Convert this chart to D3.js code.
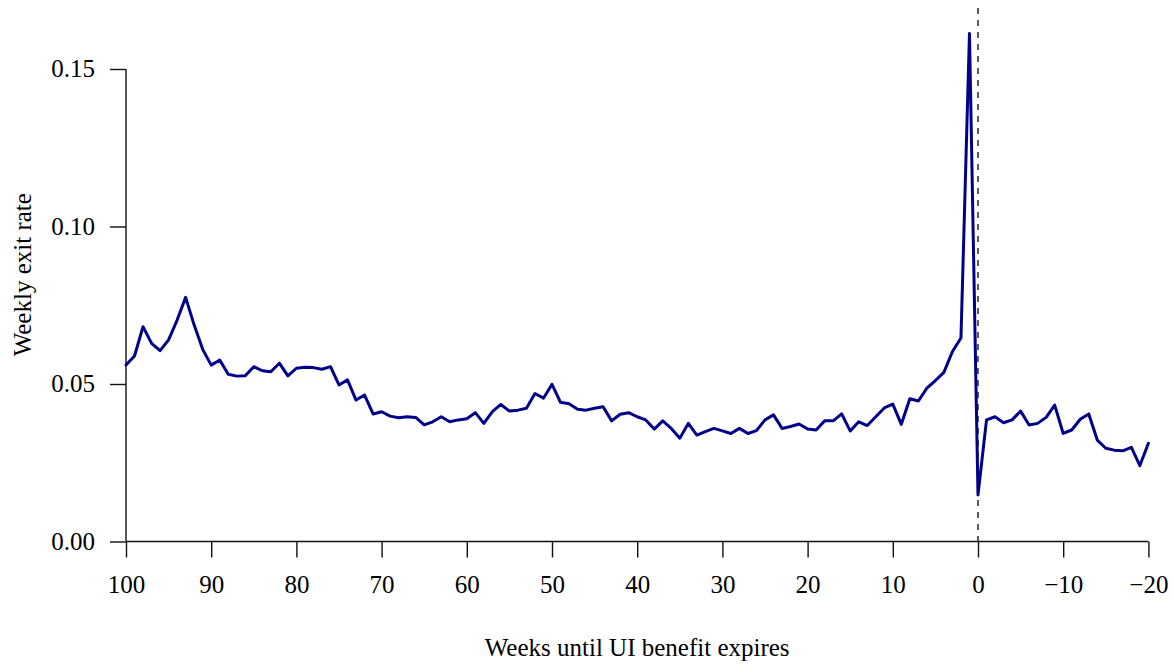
<!DOCTYPE html>
<html>
<head>
<meta charset="utf-8">
<script src="https://cdn.jsdelivr.net/npm/d3@7"></script>
<style>
  html, body { margin: 0; padding: 0; background: #ffffff; }
  svg { display: block; }
  text { font-family: "Liberation Serif", "Times New Roman", serif; fill: #000; }
</style>
</head>
<body>
<svg id="chart" width="1174" height="664"></svg>
<script>
// Weeks until UI benefit expires (100 down to -20)
const weeks = d3.range(100, -21, -1);

// Weekly exit rate for each week
const exitRate = [
  0.0560, 0.0589, 0.0682, 0.0629, 0.0606, 0.0640, 0.0703, 0.0775, 0.0687, 0.0610,
  0.0560, 0.0576, 0.0531, 0.0525, 0.0526, 0.0555, 0.0542, 0.0539, 0.0566, 0.0526,
  0.0550, 0.0553, 0.0552, 0.0547, 0.0555, 0.0497, 0.0513, 0.0449, 0.0465, 0.0405,
  0.0412, 0.0398, 0.0393, 0.0396, 0.0394, 0.0370, 0.0380, 0.0396, 0.0380, 0.0386,
  0.0390, 0.0409, 0.0375, 0.0412, 0.0435, 0.0414, 0.0417, 0.0423, 0.0470, 0.0455,
  0.0499, 0.0442, 0.0437, 0.0420, 0.0417, 0.0423, 0.0428, 0.0383, 0.0404, 0.0409,
  0.0396, 0.0386, 0.0357, 0.0383, 0.0359, 0.0328, 0.0375, 0.0338, 0.0349, 0.0359,
  0.0351, 0.0343, 0.0359, 0.0343, 0.0352, 0.0386, 0.0402, 0.0359, 0.0365, 0.0373,
  0.0357, 0.0354, 0.0383, 0.0383, 0.0405, 0.0351, 0.0380, 0.0368, 0.0396, 0.0424,
  0.0436, 0.0372, 0.0453, 0.0446, 0.0487, 0.0511, 0.0537, 0.0603, 0.0646, 0.1613,
  0.0148, 0.0386, 0.0396, 0.0377, 0.0386, 0.0414, 0.0370, 0.0375, 0.0394, 0.0433,
  0.0343, 0.0354, 0.0388, 0.0405, 0.0322, 0.0296, 0.0290, 0.0288, 0.0299, 0.0241,
  0.0312
];

// Axis ticks and their labels
const xTicks = [100, 90, 80, 70, 60, 50, 40, 30, 20, 10, 0, -10, -20];
const xTickLabels = ["100", "90", "80", "70", "60", "50", "40", "30", "20", "10", "0", "\u221210", "\u221220"];
const yTicks = [0, 0.05, 0.10, 0.15];
const yTickLabels = ["0.00", "0.05", "0.10", "0.15"];

const xTitle = "Weeks until UI benefit expires";
const yTitle = "Weekly exit rate";

// Benefit expiry marker
const expiryWeek = 0;

// Plot region
const plot = { left: 126, right: 1148.4, top: 8, bottom: 541.5 };
const yMax = 1.05 * d3.max(exitRate);

const svg = d3.select("#chart");

const x = d3.scaleLinear().domain([100, -20]).range([plot.left, plot.right]);
const y = d3.scaleLinear().domain([0, yMax]).range([plot.bottom, plot.top]);

const fontSize = 25;
const tickLen = 16;

// x axis
const xAxis = d3.axisBottom(x)
  .tickValues(xTicks)
  .tickFormat((d, i) => xTickLabels[i])
  .tickSize(tickLen)
  .tickPadding(18)
  .tickSizeOuter(0);

const gx = svg.append("g")
  .attr("transform", `translate(0,${plot.bottom})`)
  .call(xAxis);
gx.select(".domain").remove();
gx.append("line")
  .attr("x1", x(100)).attr("x2", x(-20))
  .attr("stroke", "#111").attr("stroke-width", 1.4);
gx.selectAll(".tick line").attr("stroke", "#111").attr("stroke-width", 1.4);
gx.selectAll(".tick text")
  .style("font-family", '"Liberation Serif", "Times New Roman", serif')
  .style("font-size", fontSize + "px")
  .attr("fill", "#000");

// y axis
const yAxis = d3.axisLeft(y)
  .tickValues(yTicks)
  .tickFormat((d, i) => yTickLabels[i])
  .tickSize(tickLen)
  .tickPadding(15)
  .tickSizeOuter(0);

const gy = svg.append("g")
  .attr("transform", `translate(${plot.left},0)`)
  .call(yAxis);
gy.select(".domain").remove();
gy.append("line")
  .attr("y1", y(0)).attr("y2", y(0.15))
  .attr("stroke", "#111").attr("stroke-width", 1.4);
gy.selectAll(".tick line").attr("stroke", "#111").attr("stroke-width", 1.4);
gy.selectAll(".tick text")
  .style("font-family", '"Liberation Serif", "Times New Roman", serif')
  .style("font-size", fontSize + "px")
  .attr("fill", "#000");

// Dashed vertical line at benefit expiry
svg.append("line")
  .attr("x1", x(expiryWeek)).attr("x2", x(expiryWeek))
  .attr("y1", y(yMax)).attr("y2", y(0))
  .attr("stroke", "#333")
  .attr("stroke-width", 1.6)
  .attr("stroke-dasharray", "6,6");

// Exit-rate line
const series = weeks.map((w, i) => ({ week: w, rate: exitRate[i] }));
const line = d3.line().x(d => x(d.week)).y(d => y(d.rate));

svg.append("path")
  .datum(series)
  .attr("d", line)
  .attr("fill", "none")
  .attr("stroke", "#00008B")
  .attr("stroke-width", 3)
  .attr("stroke-linejoin", "round")
  .attr("stroke-linecap", "round");

// Axis titles
svg.append("text")
  .attr("x", (plot.left + plot.right) / 2)
  .attr("y", 656)
  .attr("text-anchor", "middle")
  .style("font-size", fontSize + "px")
  .text(xTitle);

svg.append("text")
  .attr("transform", `translate(31,${(plot.top + plot.bottom) / 2}) rotate(-90)`)
  .attr("text-anchor", "middle")
  .style("font-size", fontSize + "px")
  .text(yTitle);
</script>
</body>
</html>
